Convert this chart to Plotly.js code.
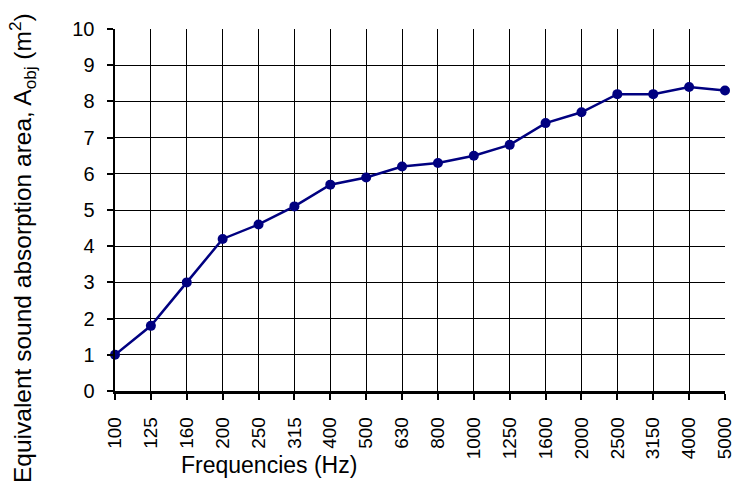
<!DOCTYPE html>
<html>
<head>
<meta charset="utf-8">
<script src="https://cdn.plot.ly/plotly-3.0.1.min.js"></script>
<style>html,body{margin:0;padding:0;background:#fff;}</style>
</head>
<body>
<div id="chart" style="width:735px;height:488px;"></div>
<script>
const frequencies = ["100","125","160","200","250","315","400","500","630","800","1000","1250","1600","2000","2500","3150","4000","5000"];
const absorptionArea = [1.0, 1.8, 3.0, 4.2, 4.6, 5.1, 5.7, 5.9, 6.2, 6.3, 6.5, 6.8, 7.4, 7.7, 8.2, 8.2, 8.4, 8.3];
const yTicks = [0,1,2,3,4,5,6,7,8,9,10];

const trace = {
  x: frequencies,
  y: absorptionArea,
  type: 'scatter',
  mode: 'lines+markers',
  line: {color: '#000080', width: 2.5},
  marker: {color: '#000080', size: 10},
  cliponaxis: false,
  hoverinfo: 'skip'
};

const layout = {
  width: 735,
  height: 488,
  margin: {l: 115, r: 10, t: 29, b: 97},
  paper_bgcolor: '#ffffff',
  plot_bgcolor: '#ffffff',
  showlegend: false,
  font: {family: 'Liberation Sans, Arial, sans-serif', color: '#000000', size: 18},
  xaxis: {
    type: 'category',
    range: [0, frequencies.length - 1],
    tickangle: -90,
    showgrid: true,
    gridcolor: '#000000',
    gridwidth: 1,
    showline: true,
    linecolor: '#000000',
    linewidth: 2.5,
    ticks: 'outside',
    ticklen: 6,
    tickwidth: 2,
    tickcolor: '#000000',
    ticklabelstandoff: 10,
    tickfont: {size: 19, family: 'Liberation Sans, Arial, sans-serif', color: '#000000'},
    zeroline: false,
    fixedrange: true
  },
  yaxis: {
    range: [0, 10],
    tickvals: yTicks,
    ticktext: yTicks.map(String),
    showgrid: true,
    gridcolor: '#000000',
    gridwidth: 1,
    showline: true,
    linecolor: '#000000',
    linewidth: 2.5,
    ticks: 'outside',
    ticklen: 6,
    tickwidth: 2,
    tickcolor: '#000000',
    ticklabelstandoff: 8,
    tickfont: {size: 20, family: 'Liberation Sans, Arial, sans-serif', color: '#000000'},
    zeroline: false,
    fixedrange: true
  },
  annotations: [
    {
      text: 'Equivalent sound absorption area, A<sub>obj</sub> (m<sup>2</sup>)',
      xref: 'paper', yref: 'paper',
      x: (22 - 115) / 610, y: (391 - 248) / 362,
      xanchor: 'center', yanchor: 'middle',
      textangle: -90,
      showarrow: false,
      font: {size: 24.5, color: '#000000', family: 'Liberation Sans, Arial, sans-serif'}
    },
    {
      text: 'Frequencies (Hz)',
      xref: 'paper', yref: 'paper',
      x: (269 - 115) / 610, y: (391 - 465) / 362,
      xanchor: 'center', yanchor: 'middle',
      showarrow: false,
      font: {size: 23, color: '#000000', family: 'Liberation Sans, Arial, sans-serif'}
    }
  ]
};

Plotly.newPlot('chart', [trace], layout, {displayModeBar: false, staticPlot: true});
</script>
</body>
</html>
